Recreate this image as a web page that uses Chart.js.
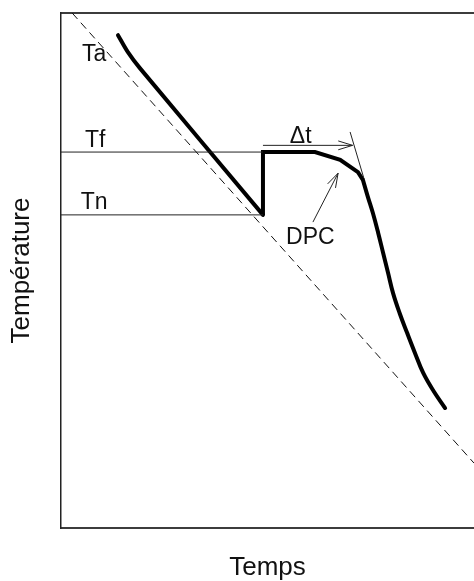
<!DOCTYPE html>
<html>
<head>
<meta charset="utf-8">
<script src="https://cdn.jsdelivr.net/npm/chart.js@4/dist/chart.umd.min.js"></script>
<style>
  html, body { margin: 0; padding: 0; background: #fff; }
  #wrap { width: 474px; height: 581px; }
</style>
</head>
<body>
<div id="wrap"><canvas id="c" width="474" height="581"></canvas></div>
<script>
// Cooling curve of a supercooled sample: time (arbitrary units 0-100) vs temperature (0-100)
const ambientLine = [ {x: 2.7, y: 100}, {x: 100, y: 12.6} ];          // Ta, dashed ambient
const coolingPart = [ {x: 13.8, y: 95.7}, {x: 16.2, y: 92.4}, {x: 19.1, y: 89.3}, {x: 48.9, y: 60.8} ];
const plateauPart = [ {x: 48.9, y: 60.8}, {x: 48.9, y: 73.0}, {x: 61.5, y: 73.0},
                      {x: 67.6, y: 71.5}, {x: 71.9, y: 69.1}, {x: 73.1, y: 67.6} ];
const tailPart    = [ {x: 73.1, y: 67.6}, {x: 74.3, y: 64.3}, {x: 75.5, y: 61.2}, {x: 76.8, y: 57.3},
                      {x: 78.0, y: 53.4}, {x: 79.2, y: 49.5}, {x: 80.4, y: 45.6}, {x: 82.0, y: 41.7},
                      {x: 83.8, y: 37.9}, {x: 85.7, y: 34.0}, {x: 87.7, y: 30.1}, {x: 90.2, y: 26.6},
                      {x: 93.0, y: 23.3} ];
const levels = { Tf: 73.0, Tn: 60.8 };                                 // freezing / nucleation temperatures
const levelEndX = 48.9;
const deltaArrow = [ {x: 48.9, y: 74.3}, {x: 70.6, y: 74.3} ];          // Δt
const tangentLine = [ {x: 70.0, y: 76.9}, {x: 73.3, y: 68.0} ];
const dpcArrow = [ {x: 61.0, y: 59.4}, {x: 67.1, y: 68.9} ];
const annotations = [
  { text: 'Ta',  x: 5.1,  y: 90.7 },
  { text: 'Tf',  x: 5.8,  y: 74.0 },
  { text: 'Tn',  x: 4.8,  y: 61.9 },
  { text: 'Δt',  x: 55.4, y: 74.8 },
  { text: 'DPC', x: 54.5, y: 55.1 }
];

const FONT = 'Liberation Sans, Arial, Helvetica, sans-serif';

const thin = (data, extra) => Object.assign({
  data, showLine: true, borderColor: '#222', borderWidth: 1, pointRadius: 0, tension: 0, fill: false
}, extra || {});

const datasets = [
  thin(ambientLine, { borderDash: [8, 5], borderColor: '#111' }),
  thin([{x: 0, y: levels.Tf}, {x: levelEndX, y: levels.Tf}]),
  thin([{x: 0, y: levels.Tn}, {x: levelEndX, y: levels.Tn}]),
  thin(deltaArrow, { arrow: true }),
  thin(tangentLine),
  thin(dpcArrow, { arrow: true }),
  thin(coolingPart, { borderColor: '#000', borderWidth: 4, tension: 0.35, borderCapStyle: 'round', borderJoinStyle: 'round' }),
  thin(plateauPart, { borderColor: '#000', borderWidth: 4, borderCapStyle: 'butt', borderJoinStyle: 'miter' }),
  thin(tailPart, { borderColor: '#000', borderWidth: 4, tension: 0.4, borderCapStyle: 'round', borderJoinStyle: 'round' })
];

// open arrowheads at the end of marked datasets, plus text labels at data positions
const decorations = {
  id: 'decorations',
  afterDatasetsDraw(chart) {
    const ctx = chart.ctx;
    const xs = chart.scales.x, ys = chart.scales.y;
    ctx.save();
    chart.data.datasets.forEach((ds, i) => {
      if (!ds.arrow) return;
      const pts = chart.getDatasetMeta(i).data;
      const a = pts[pts.length - 2], b = pts[pts.length - 1];
      const ang = Math.atan2(b.y - a.y, b.x - a.x);
      const len = 15, spread = 0.3;
      ctx.strokeStyle = '#222';
      ctx.lineWidth = 1;
      ctx.beginPath();
      ctx.moveTo(b.x - len * Math.cos(ang - spread), b.y - len * Math.sin(ang - spread));
      ctx.lineTo(b.x, b.y);
      ctx.lineTo(b.x - len * Math.cos(ang + spread), b.y - len * Math.sin(ang + spread));
      ctx.stroke();
    });
    ctx.fillStyle = '#111';
    ctx.font = '23px ' + FONT;
    ctx.textAlign = 'left';
    ctx.textBaseline = 'alphabetic';
    annotations.forEach(a => {
      ctx.fillText(a.text, xs.getPixelForValue(a.x), ys.getPixelForValue(a.y));
    });
    ctx.restore();
  }
};

new Chart(document.getElementById('c'), {
  type: 'scatter',
  data: { datasets },
  options: {
    responsive: false,
    animation: false,
    devicePixelRatio: 1,
    layout: { padding: { top: 13, right: 0, left: 0, bottom: 0 } },
    plugins: { legend: { display: false }, tooltip: { enabled: false } },
    scales: {
      x: {
        type: 'linear', min: 0, max: 100,
        grid: { display: false, drawTicks: false },
        ticks: { display: false },
        border: { display: true, color: '#3c3c3c', width: 2 },
        title: { display: true, text: 'Temps', color: '#111',
                 font: { family: FONT, size: 26, lineHeight: 1 },
                 padding: { top: 27, bottom: 0 } }
      },
      x2: {
        type: 'linear', position: 'top', min: 0, max: 100,
        grid: { display: false, drawTicks: false },
        ticks: { display: false },
        border: { display: true, color: '#3c3c3c', width: 2 }
      },
      y: {
        type: 'linear', min: 0, max: 100,
        grid: { display: false, drawTicks: false },
        ticks: { display: false },
        border: { display: true, color: '#222', width: 1.5 },
        title: { display: true, text: 'Température', color: '#111',
                 font: { family: FONT, size: 26, lineHeight: 1 },
                 padding: { top: 9, bottom: 26 } }
      }
    }
  },
  plugins: [decorations]
});
</script>
</body>
</html>
